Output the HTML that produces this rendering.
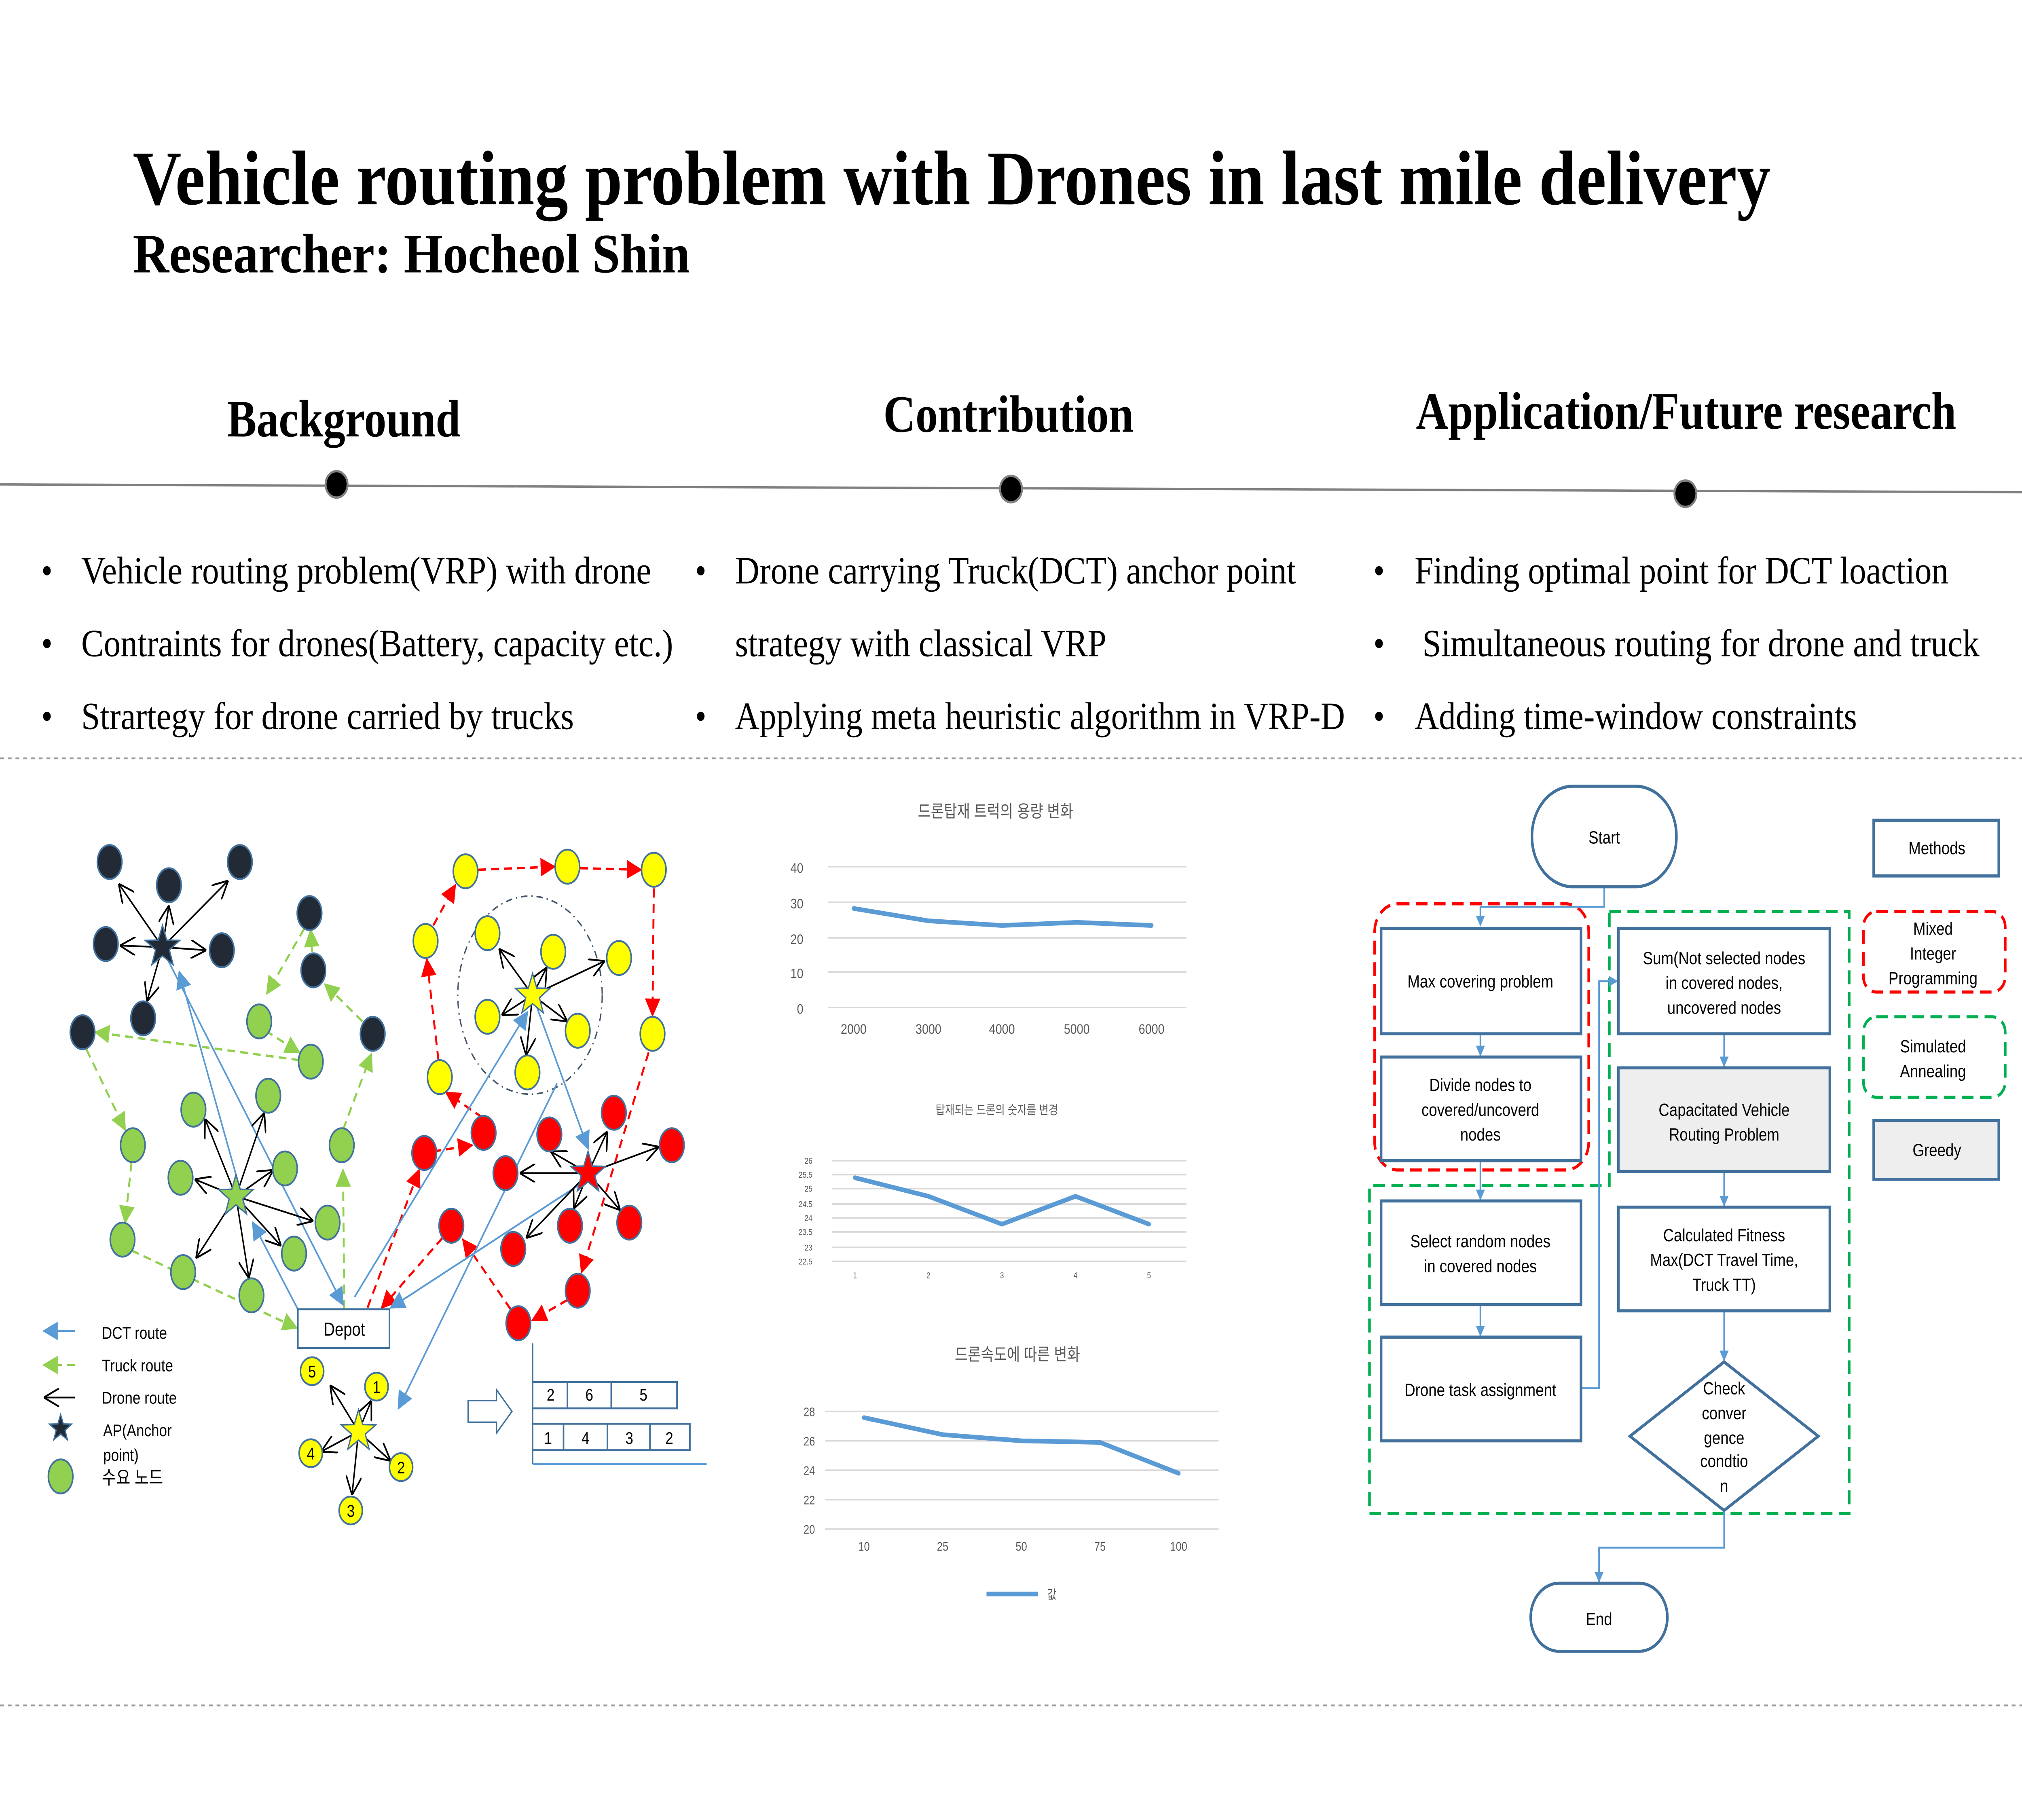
<!DOCTYPE html>
<html><head><meta charset="utf-8"><style>html,body{margin:0;padding:0;background:#fff;overflow:hidden;width:100%;height:100%}svg{display:block;width:100vw;height:100vh}</style></head>
<body>
<svg viewBox="0 0 1568 1176" preserveAspectRatio="none" xmlns="http://www.w3.org/2000/svg">
<defs>
<marker id="mb" viewBox="0 0 10 10" refX="9" refY="5" markerWidth="7" markerHeight="7" markerUnits="userSpaceOnUse" orient="auto"><path d="M0,0L10,5L0,10z" fill="#5b9bd5"/></marker>
<marker id="mbb" viewBox="0 0 10 10" refX="9" refY="5" markerWidth="12" markerHeight="12" markerUnits="userSpaceOnUse" orient="auto"><path d="M0,0L10,5L0,10z" fill="#5b9bd5"/></marker>
<marker id="mg" viewBox="0 0 10 10" refX="9" refY="5" markerWidth="12" markerHeight="12" markerUnits="userSpaceOnUse" orient="auto"><path d="M0,0L10,5L0,10z" fill="#92d050"/></marker>
<marker id="mr" viewBox="0 0 10 10" refX="9" refY="5" markerWidth="12" markerHeight="12" markerUnits="userSpaceOnUse" orient="auto"><path d="M0,0L10,5L0,10z" fill="#ff0000"/></marker>
<marker id="mk" viewBox="0 0 10 10" refX="10" refY="5" markerWidth="12" markerHeight="12" markerUnits="userSpaceOnUse" orient="auto"><path d="M0,0L10,5L0,10" fill="none" stroke="#000" stroke-width="1"/></marker>
</defs>

<g font-family="Liberation Serif, serif" font-weight="bold" fill="#000">
<text x="103" y="132" font-size="50" textLength="1270" lengthAdjust="spacingAndGlyphs">Vehicle routing problem with Drones in last mile delivery</text>
<text x="103" y="176" font-size="36" textLength="432" lengthAdjust="spacingAndGlyphs">Researcher: Hocheol Shin</text>
<text x="176" y="282" font-size="34" textLength="181" lengthAdjust="spacingAndGlyphs">Background</text>
<text x="685" y="279" font-size="34" textLength="194" lengthAdjust="spacingAndGlyphs">Contribution</text>
<text x="1098" y="277" font-size="34" textLength="419" lengthAdjust="spacingAndGlyphs">Application/Future research</text>
</g>
<line x1="0" y1="313" x2="1568" y2="318" stroke="#808080" stroke-width="1.5"/>
<circle cx="261" cy="313" r="8.5" fill="#000" stroke="#808080" stroke-width="1.5"/>
<circle cx="784" cy="316" r="8.5" fill="#000" stroke="#808080" stroke-width="1.5"/>
<circle cx="1307" cy="319" r="8.5" fill="#000" stroke="#808080" stroke-width="1.5"/>

<g font-family="Liberation Serif, serif" font-size="25" fill="#000">
<text x="32" y="377">•</text><text x="63" y="377" textLength="442" lengthAdjust="spacingAndGlyphs">Vehicle routing problem(VRP) with drone</text>
<text x="32" y="424">•</text><text x="63" y="424" textLength="459" lengthAdjust="spacingAndGlyphs">Contraints for drones(Battery, capacity etc.)</text>
<text x="32" y="471">•</text><text x="63" y="471" textLength="382" lengthAdjust="spacingAndGlyphs">Strartegy for drone carried by trucks</text>
<text x="539" y="377">•</text><text x="570" y="377" textLength="435" lengthAdjust="spacingAndGlyphs">Drone carrying Truck(DCT) anchor point</text>
<text x="570" y="424" textLength="288" lengthAdjust="spacingAndGlyphs">strategy with classical VRP</text>
<text x="539" y="471">•</text><text x="570" y="471" textLength="473" lengthAdjust="spacingAndGlyphs">Applying meta heuristic algorithm in VRP-D</text>
<text x="1065" y="377">•</text><text x="1097" y="377" textLength="414" lengthAdjust="spacingAndGlyphs">Finding optimal point for DCT loaction</text>
<text x="1065" y="424">•</text><text x="1103" y="424" textLength="432" lengthAdjust="spacingAndGlyphs">Simultaneous routing for drone and truck</text>
<text x="1065" y="471">•</text><text x="1097" y="471" textLength="343" lengthAdjust="spacingAndGlyphs">Adding time-window constraints</text>
</g>
<line x1="0" y1="490" x2="1568" y2="490" stroke="#999" stroke-width="1.2" stroke-dasharray="3,3"/>
<line x1="0" y1="1102" x2="1568" y2="1102" stroke="#999" stroke-width="1.2" stroke-dasharray="3,3"/>

<ellipse cx="411" cy="643" rx="56" ry="64" fill="none" stroke="#44546a" stroke-width="1" stroke-dasharray="5,3,1,3"/>
<g stroke="#92d050" stroke-width="1.5" stroke-dasharray="6,4" fill="none" marker-end="url(#mg)">
<line x1="267" y1="846" x2="266" y2="756"/>
<line x1="266" y1="730" x2="288" y2="681"/>
<line x1="281" y1="660" x2="252" y2="636"/>
<line x1="242" y1="615" x2="241" y2="601"/>
<line x1="236" y1="600" x2="207" y2="642"/>
<line x1="206" y1="666" x2="232" y2="680"/>
<line x1="232" y1="685" x2="74" y2="667"/>
<line x1="67" y1="678" x2="97" y2="730"/>
<line x1="102" y1="751" x2="97" y2="790"/>
<line x1="102" y1="808" x2="230" y2="858"/>
</g>
<g stroke="#ff0000" stroke-width="1.5" stroke-dasharray="6,4" fill="none" marker-end="url(#mr)">
<line x1="285" y1="845" x2="325" y2="756"/>
<line x1="336" y1="744" x2="366" y2="740"/>
<line x1="374" y1="722" x2="346" y2="706"/>
<line x1="340" y1="685" x2="331" y2="620"/>
<line x1="336" y1="598" x2="353" y2="572"/>
<line x1="371" y1="562" x2="430" y2="560"/>
<line x1="450" y1="561" x2="497" y2="562"/>
<line x1="507" y1="574" x2="506" y2="656"/>
<line x1="503" y1="680" x2="451" y2="822"/>
<line x1="440" y1="840" x2="413" y2="853"/>
<line x1="396" y1="846" x2="359" y2="801"/>
<line x1="343" y1="800" x2="296" y2="845"/>
</g>
<g stroke="#5b9bd5" stroke-width="1.2" fill="none" marker-end="url(#mbb)">
<line x1="231" y1="846" x2="196" y2="790"/>
<line x1="185" y1="765" x2="139" y2="628"/>
<line x1="130" y1="620" x2="266" y2="843"/>
<line x1="275" y1="838" x2="409" y2="654"/>
<line x1="416" y1="650" x2="456" y2="742"/>
<line x1="452" y1="764" x2="303" y2="845"/>
<line x1="432" y1="700" x2="309" y2="910"/>
</g>
<g stroke="#000" stroke-width="1.1" fill="none" marker-end="url(#mk)">
<line x1="126" y1="612" x2="92" y2="571"/>
<line x1="126" y1="612" x2="131" y2="585"/>
<line x1="126" y1="612" x2="177" y2="569"/>
<line x1="126" y1="612" x2="93" y2="611"/>
<line x1="126" y1="612" x2="160" y2="614"/>
<line x1="126" y1="612" x2="114" y2="647"/>
<line x1="183" y1="773" x2="159" y2="723"/>
<line x1="183" y1="773" x2="205" y2="719"/>
<line x1="183" y1="773" x2="151" y2="762"/>
<line x1="183" y1="773" x2="212" y2="756"/>
<line x1="183" y1="773" x2="243" y2="789"/>
<line x1="183" y1="773" x2="218" y2="805"/>
<line x1="183" y1="773" x2="152" y2="813"/>
<line x1="183" y1="773" x2="193" y2="826"/>
<line x1="413" y1="643" x2="387" y2="613"/>
<line x1="413" y1="643" x2="424" y2="625"/>
<line x1="413" y1="643" x2="469" y2="621"/>
<line x1="413" y1="643" x2="389" y2="656"/>
<line x1="413" y1="643" x2="440" y2="660"/>
<line x1="413" y1="643" x2="408" y2="682"/>
<line x1="456" y1="758" x2="427" y2="744"/>
<line x1="456" y1="758" x2="471" y2="731"/>
<line x1="456" y1="758" x2="511" y2="741"/>
<line x1="456" y1="758" x2="403" y2="758"/>
<line x1="456" y1="758" x2="445" y2="781"/>
<line x1="456" y1="758" x2="481" y2="782"/>
<line x1="456" y1="758" x2="408" y2="800"/>
<line x1="278" y1="925" x2="256" y2="895"/>
<line x1="278" y1="925" x2="288" y2="905"/>
<line x1="278" y1="925" x2="249" y2="938"/>
<line x1="278" y1="925" x2="303" y2="944"/>
<line x1="278" y1="925" x2="273" y2="966"/>
</g>
<g stroke="#41719c" stroke-width="1.2">
<g fill="#222a35">
<ellipse cx="85" cy="557" rx="9.5" ry="11"/><ellipse cx="186" cy="557" rx="9.5" ry="11"/><ellipse cx="131" cy="572" rx="9.5" ry="11"/><ellipse cx="240" cy="590" rx="9.5" ry="11"/><ellipse cx="82" cy="610" rx="9.5" ry="11"/><ellipse cx="172" cy="614" rx="9.5" ry="11"/><ellipse cx="243" cy="627" rx="9.5" ry="11"/><ellipse cx="111" cy="658" rx="9.5" ry="11"/><ellipse cx="64" cy="667" rx="9.5" ry="11"/><ellipse cx="289" cy="668" rx="9.5" ry="11"/>
</g>
<g fill="#92d050">
<ellipse cx="201" cy="660" rx="9.5" ry="11"/><ellipse cx="241" cy="686" rx="9.5" ry="11"/><ellipse cx="208" cy="708" rx="9.5" ry="11"/><ellipse cx="150" cy="717" rx="9.5" ry="11"/><ellipse cx="103" cy="740" rx="9.5" ry="11"/><ellipse cx="265" cy="740" rx="9.5" ry="11"/><ellipse cx="221" cy="755" rx="9.5" ry="11"/><ellipse cx="140" cy="761" rx="9.5" ry="11"/><ellipse cx="254" cy="790" rx="9.5" ry="11"/><ellipse cx="95" cy="801" rx="9.5" ry="11"/><ellipse cx="228" cy="810" rx="9.5" ry="11"/><ellipse cx="142" cy="822" rx="9.5" ry="11"/><ellipse cx="195" cy="837" rx="9.5" ry="11"/>
</g>
<g fill="#ffff00">
<ellipse cx="361" cy="563" rx="9.5" ry="11"/><ellipse cx="440" cy="560" rx="9.5" ry="11"/><ellipse cx="507" cy="562" rx="9.5" ry="11"/><ellipse cx="330" cy="608" rx="9.5" ry="11"/><ellipse cx="378" cy="603" rx="9.5" ry="11"/><ellipse cx="429" cy="615" rx="9.5" ry="11"/><ellipse cx="480" cy="619" rx="9.5" ry="11"/><ellipse cx="378" cy="657" rx="9.5" ry="11"/><ellipse cx="448" cy="666" rx="9.5" ry="11"/><ellipse cx="341" cy="696" rx="9.5" ry="11"/><ellipse cx="409" cy="693" rx="9.5" ry="11"/><ellipse cx="506" cy="668" rx="9.5" ry="11"/>
</g>
<g fill="#ff0000">
<ellipse cx="375" cy="732" rx="9.5" ry="11"/><ellipse cx="329" cy="745" rx="9.5" ry="11"/><ellipse cx="426" cy="733" rx="9.5" ry="11"/><ellipse cx="476" cy="719" rx="9.5" ry="11"/><ellipse cx="521" cy="740" rx="9.5" ry="11"/><ellipse cx="392" cy="758" rx="9.5" ry="11"/><ellipse cx="350" cy="792" rx="9.5" ry="11"/><ellipse cx="398" cy="807" rx="9.5" ry="11"/><ellipse cx="442" cy="792" rx="9.5" ry="11"/><ellipse cx="488" cy="790" rx="9.5" ry="11"/><ellipse cx="448" cy="834" rx="9.5" ry="11"/><ellipse cx="402" cy="855" rx="9.5" ry="11"/>
</g>
<g fill="#ffff00">
<circle cx="242" cy="886" r="9"/><circle cx="292" cy="896" r="9"/><circle cx="241" cy="939" r="9"/><circle cx="311" cy="948" r="9"/><circle cx="272" cy="976" r="9"/>
</g>
<g fill="#92d050"><ellipse cx="47" cy="954" rx="9.5" ry="11"/></g>
</g>
<g stroke="#41719c">
<path transform="translate(126,612) scale(14)" d="M0,-1L0.235,-0.324L0.951,-0.309L0.38,0.124L0.588,0.809L0,0.4L-0.588,0.809L-0.38,0.124L-0.951,-0.309L-0.235,-0.324Z" fill="#222a35" stroke-width="0.07"/>
<path transform="translate(183,773) scale(14)" d="M0,-1L0.235,-0.324L0.951,-0.309L0.38,0.124L0.588,0.809L0,0.4L-0.588,0.809L-0.38,0.124L-0.951,-0.309L-0.235,-0.324Z" fill="#92d050" stroke-width="0.07"/>
<path transform="translate(413,643) scale(14)" d="M0,-1L0.235,-0.324L0.951,-0.309L0.38,0.124L0.588,0.809L0,0.4L-0.588,0.809L-0.38,0.124L-0.951,-0.309L-0.235,-0.324Z" fill="#ffff00" stroke-width="0.07"/>
<path transform="translate(456,758) scale(14)" d="M0,-1L0.235,-0.324L0.951,-0.309L0.38,0.124L0.588,0.809L0,0.4L-0.588,0.809L-0.38,0.124L-0.951,-0.309L-0.235,-0.324Z" fill="#ff0000" stroke-width="0.07"/>
<path transform="translate(278,925) scale(14)" d="M0,-1L0.235,-0.324L0.951,-0.309L0.38,0.124L0.588,0.809L0,0.4L-0.588,0.809L-0.38,0.124L-0.951,-0.309L-0.235,-0.324Z" fill="#ffff00" stroke-width="0.07"/>
<path transform="translate(47,923) scale(9)" d="M0,-1L0.235,-0.324L0.951,-0.309L0.38,0.124L0.588,0.809L0,0.4L-0.588,0.809L-0.38,0.124L-0.951,-0.309L-0.235,-0.324Z" fill="#222a35" stroke-width="0.1"/>
</g>
<g font-family="Liberation Sans, sans-serif" font-size="11" fill="#000" text-anchor="middle">
<text x="242" y="890">5</text><text x="292" y="900">1</text><text x="241" y="943">4</text><text x="311" y="952">2</text><text x="272" y="980">3</text>
</g>
<rect x="231" y="846" width="71" height="25" fill="#fff" stroke="#41719c" stroke-width="1.2"/>
<text x="267" y="863" font-family="Liberation Sans, sans-serif" font-size="12" text-anchor="middle">Depot</text>
<line x1="58" y1="860" x2="34" y2="860" stroke="#5b9bd5" stroke-width="1.2" marker-end="url(#mbb)"/>
<line x1="58" y1="882" x2="34" y2="882" stroke="#92d050" stroke-width="1.2" stroke-dasharray="6,4" marker-end="url(#mg)"/>
<line x1="58" y1="903" x2="34" y2="903" stroke="#000" stroke-width="1.1" marker-end="url(#mk)"/>
<g font-family="Liberation Sans, 'Noto Sans CJK KR', sans-serif" font-size="11" fill="#000">
<text x="79" y="865">DCT route</text><text x="79" y="886">Truck route</text><text x="79" y="907">Drone route</text>
<text x="80" y="928">AP(Anchor</text><text x="80" y="944">point)</text><text x="79" y="959" font-size="12">수요 노드</text>
</g>
<path d="M363,905L385,905L385,898L397,912L385,926L385,919L363,919Z" fill="#fff" stroke="#41719c" stroke-width="1"/>
<g fill="none" stroke="#41719c" stroke-width="1.2">
<line x1="413" y1="868" x2="413" y2="946"/><line x1="413" y1="946" x2="548" y2="946" stroke="#5b9bd5"/>
<rect x="413" y="893" width="112" height="17"/><line x1="440" y1="893" x2="440" y2="910"/><line x1="474" y1="893" x2="474" y2="910"/>
<rect x="413" y="920" width="122" height="17"/><line x1="437" y1="920" x2="437" y2="937"/><line x1="471" y1="920" x2="471" y2="937"/><line x1="504" y1="920" x2="504" y2="937"/>
</g>
<g font-family="Liberation Sans, sans-serif" font-size="11" fill="#000" text-anchor="middle">
<text x="427" y="905">2</text><text x="457" y="905">6</text><text x="499" y="905">5</text>
<text x="425" y="933">1</text><text x="454" y="933">4</text><text x="488" y="933">3</text><text x="519" y="933">2</text>
</g>

<g font-family="Liberation Sans, 'Noto Sans CJK KR', sans-serif" fill="#595959">
<text x="772" y="528" font-size="11" text-anchor="middle">드론탑재 트럭의 용량 변화</text>
<g stroke="#d9d9d9" stroke-width="1"><line x1="642" y1="560" x2="920" y2="560"/><line x1="642" y1="583" x2="920" y2="583"/><line x1="642" y1="606" x2="920" y2="606"/><line x1="642" y1="628" x2="920" y2="628"/><line x1="642" y1="651" x2="920" y2="651"/></g>
<g font-size="9" text-anchor="end"><text x="623" y="564">40</text><text x="623" y="587">30</text><text x="623" y="610">20</text><text x="623" y="632">10</text><text x="623" y="655">0</text></g>
<g font-size="9" text-anchor="middle"><text x="662" y="668">2000</text><text x="720" y="668">3000</text><text x="777" y="668">4000</text><text x="835" y="668">5000</text><text x="893" y="668">6000</text></g>
<polyline points="662,587 720,595 777,598 835,596 893,598" fill="none" stroke="#5b9bd5" stroke-width="3" stroke-linecap="round" stroke-linejoin="round"/>

<text x="773" y="720" font-size="8" text-anchor="middle">탑재되는 드론의 숫자를 변경</text>
<g stroke="#d9d9d9" stroke-width="1"><line x1="645" y1="750" x2="920" y2="750"/><line x1="645" y1="759" x2="920" y2="759"/><line x1="645" y1="768" x2="920" y2="768"/><line x1="645" y1="778" x2="920" y2="778"/><line x1="645" y1="787" x2="920" y2="787"/><line x1="645" y1="796" x2="920" y2="796"/><line x1="645" y1="806" x2="920" y2="806"/><line x1="645" y1="815" x2="920" y2="815"/></g>
<g font-size="5.5" text-anchor="end"><text x="630" y="752">26</text><text x="630" y="761">25.5</text><text x="630" y="770">25</text><text x="630" y="780">24.5</text><text x="630" y="789">24</text><text x="630" y="798">23.5</text><text x="630" y="808">23</text><text x="630" y="817">22.5</text></g>
<g font-size="5.5" text-anchor="middle"><text x="663" y="826">1</text><text x="720" y="826">2</text><text x="777" y="826">3</text><text x="834" y="826">4</text><text x="891" y="826">5</text></g>
<polyline points="663,761 720,773 777,791 834,773 891,791" fill="none" stroke="#5b9bd5" stroke-width="3" stroke-linecap="round" stroke-linejoin="round"/>

<text x="789" y="879" font-size="11" text-anchor="middle">드론속도에 따른 변화</text>
<g stroke="#d9d9d9" stroke-width="1"><line x1="640" y1="912" x2="945" y2="912"/><line x1="640" y1="931" x2="945" y2="931"/><line x1="640" y1="950" x2="945" y2="950"/><line x1="640" y1="969" x2="945" y2="969"/><line x1="640" y1="988" x2="945" y2="988"/></g>
<g font-size="8" text-anchor="end"><text x="632" y="915">28</text><text x="632" y="934">26</text><text x="632" y="953">24</text><text x="632" y="972">22</text><text x="632" y="991">20</text></g>
<g font-size="8" text-anchor="middle"><text x="670" y="1002">10</text><text x="731" y="1002">25</text><text x="792" y="1002">50</text><text x="853" y="1002">75</text><text x="914" y="1002">100</text></g>
<polyline points="670,916 731,927 792,931 853,932 914,952" fill="none" stroke="#5b9bd5" stroke-width="3" stroke-linecap="round" stroke-linejoin="round"/>
<line x1="765" y1="1030" x2="805" y2="1030" stroke="#5b9bd5" stroke-width="3"/>
<text x="812" y="1033" font-size="8">값</text>
</g>

<g fill="none" stroke-width="2" stroke-dasharray="9,5">
<rect x="1066" y="584" width="166" height="172" rx="18" stroke="#ff0000"/>
<path d="M1248,589L1434,589L1434,978L1062,978L1062,766L1248,766Z" stroke="#00b050"/>
<rect x="1445" y="589" width="110" height="52" rx="10" stroke="#ff0000"/>
<rect x="1445" y="657" width="110" height="52" rx="10" stroke="#00b050"/>
</g>
<g stroke="#5b9bd5" stroke-width="1.2" fill="none" marker-end="url(#mb)">
<polyline points="1244,573 1244,586 1148,586 1148,598"/>
<line x1="1148" y1="668" x2="1148" y2="682"/>
<line x1="1148" y1="750" x2="1148" y2="775"/>
<line x1="1148" y1="843" x2="1148" y2="863"/>
<polyline points="1226,897 1240,897 1240,634 1254,634"/>
<line x1="1337" y1="668" x2="1337" y2="689"/>
<line x1="1337" y1="757" x2="1337" y2="779"/>
<line x1="1337" y1="847" x2="1337" y2="879"/>
<polyline points="1337,976 1337,1000 1240,1000 1240,1022"/>
</g>
<g stroke="#41719c" stroke-width="2">
<rect x="1188" y="508" width="112" height="65" rx="32" fill="#fff"/>
<rect x="1187" y="1023" width="106" height="44" rx="22" fill="#fff"/>
<rect x="1071" y="600" width="155" height="68" fill="#fff"/>
<rect x="1071" y="683" width="155" height="67" fill="#fff"/>
<rect x="1071" y="776" width="155" height="67" fill="#fff"/>
<rect x="1071" y="864" width="155" height="67" fill="#fff"/>
<rect x="1255" y="600" width="164" height="68" fill="#fff"/>
<rect x="1255" y="690" width="164" height="67" fill="#eeeeee"/>
<rect x="1255" y="780" width="164" height="67" fill="#fff"/>
<path d="M1337,880L1410,928L1337,976L1264,928Z" fill="#fff"/>
<rect x="1453" y="530" width="97" height="36" fill="#fff"/>
<rect x="1453" y="724" width="97" height="38" fill="#eeeeee"/>
</g>
<g font-family="Liberation Sans, sans-serif" font-size="11.5" fill="#000" text-anchor="middle">
<text x="1244" y="545">Start</text>
<text x="1240" y="1050">End</text>
<text x="1148" y="638">Max covering problem</text>
<text x="1148" y="705">Divide nodes to</text><text x="1148" y="721">covered/uncoverd</text><text x="1148" y="737">nodes</text>
<text x="1148" y="806">Select random nodes</text><text x="1148" y="822">in covered nodes</text>
<text x="1148" y="902">Drone task assignment</text>
<text x="1337" y="623">Sum(Not selected nodes</text><text x="1337" y="639">in covered nodes,</text><text x="1337" y="655">uncovered nodes</text>
<text x="1337" y="721">Capacitated Vehicle</text><text x="1337" y="737">Routing Problem</text>
<text x="1337" y="802">Calculated Fitness</text><text x="1337" y="818">Max(DCT Travel Time,</text><text x="1337" y="834">Truck TT)</text>
<text x="1337" y="901">Check</text><text x="1337" y="917">conver</text><text x="1337" y="933">gence</text><text x="1337" y="948">condtio</text><text x="1337" y="964">n</text>
<text x="1502" y="552">Methods</text>
<text x="1499" y="604">Mixed</text><text x="1499" y="620">Integer</text><text x="1499" y="636">Programming</text>
<text x="1499" y="680">Simulated</text><text x="1499" y="696">Annealing</text>
<text x="1502" y="747">Greedy</text>
</g>
</svg>
</body></html>
